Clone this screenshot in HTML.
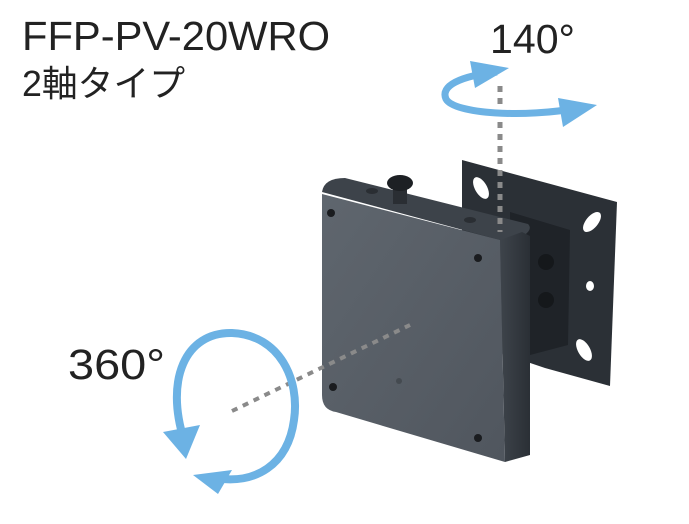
<!DOCTYPE html>
<html><head><meta charset="utf-8"><style>
html,body{margin:0;padding:0;background:#fff;width:689px;height:524px;overflow:hidden}
</style></head><body>
<svg width="689" height="524" viewBox="0 0 689 524" xmlns="http://www.w3.org/2000/svg">
<defs>
<linearGradient id="face" x1="0" y1="0" x2="1" y2="1">
<stop offset="0" stop-color="#5f666e"/><stop offset="1" stop-color="#50565e"/></linearGradient>
<linearGradient id="side" x1="0" y1="0" x2="1" y2="0">
<stop offset="0" stop-color="#3e444b"/><stop offset="1" stop-color="#2a2f35"/></linearGradient>
</defs>
<text x="22" y="50" font-family="Liberation Sans, sans-serif" font-size="41" fill="#222" textLength="308" lengthAdjust="spacingAndGlyphs">FFP-PV-20WRO</text>
<text x="22" y="96" font-family="Liberation Sans, 'Noto Sans CJK JP', sans-serif" font-size="36" fill="#222" textLength="163" lengthAdjust="spacingAndGlyphs">2軸タイプ</text>
<text x="490" y="53" font-family="Liberation Sans, sans-serif" font-size="41" fill="#222" textLength="85" lengthAdjust="spacingAndGlyphs">140°</text>
<text x="68" y="379" font-family="Liberation Sans, sans-serif" font-size="43" fill="#222" textLength="97" lengthAdjust="spacingAndGlyphs">360°</text>

<!-- back plate -->
<path d="M462,160 L617,202 L610,386 L545,368 L462,340 Z" fill="#2b3036"/>
<ellipse cx="481" cy="188" rx="6" ry="12" transform="rotate(-30 481 188)" fill="#fff"/>
<ellipse cx="592" cy="222" rx="6" ry="12" transform="rotate(40 592 222)" fill="#fff"/>
<ellipse cx="590" cy="286" rx="4" ry="5" fill="#fff"/>
<ellipse cx="584" cy="350" rx="6" ry="12" transform="rotate(-30 584 350)" fill="#fff"/>
<!-- middle block -->
<path d="M510,212 L570,230 L568,345 L530,355 L510,345 Z" fill="#1f2328"/>
<circle cx="546" cy="262" r="8" fill="#15181b"/><circle cx="546" cy="300" r="8" fill="#15181b"/>
<!-- top strip of front box -->
<path d="M322,192 Q324,178 345,178 L528,224 Q534,230 520,238 L500,240 Z" fill="#3d434a"/>
<!-- right side -->
<path d="M500,240 L522,232 L530,236 L530,455 L505,462 Z" fill="url(#side)"/>
<!-- front face -->
<path d="M322,194 L500,240 L505,462 L336,412 Q322,410 322,395 Z" fill="url(#face)"/>
<circle cx="331" cy="213" r="4" fill="#1a1c1f"/><circle cx="478" cy="258" r="4" fill="#1a1c1f"/>
<circle cx="333" cy="387" r="4" fill="#1a1c1f"/><circle cx="478" cy="438" r="4" fill="#1a1c1f"/>
<circle cx="399" cy="381" r="3" fill="#444a50"/>
<!-- knob -->
<rect x="393" y="188" width="14" height="16" fill="#2a2e33"/>
<ellipse cx="400" cy="183" rx="13" ry="8" fill="#1d2024"/>
<ellipse cx="372" cy="191" rx="6" ry="3" fill="#2a2e33"/>
<ellipse cx="470" cy="220" rx="6" ry="3" fill="#2a2e33"/>

<!-- dotted axes -->
<line x1="500" y1="86" x2="500" y2="232" stroke="#8a8a8a" stroke-width="5" stroke-dasharray="6,6"/>
<line x1="232" y1="411" x2="410" y2="325" stroke="#8a8a8a" stroke-width="4" stroke-dasharray="6,6"/>

<!-- top arrow -->
<path d="M497,72 C460,76 440,86 446,99 C454,114 525,118 578,108" fill="none" stroke="#6cb2e4" stroke-width="7"/>
<polygon points="470,61 509,68 475,88" fill="#6cb2e4"/>
<polygon points="558,98 597,105 563,127" fill="#6cb2e4"/>
<!-- left circle arrow -->
<path d="M184,440 C165,380 185,332 232,333 C280,335 300,380 294,420 C288,465 255,485 215,478" fill="none" stroke="#6cb2e4" stroke-width="8"/>
<polygon points="163,432 200,425 186,459" fill="#6cb2e4"/>
<polygon points="193,475 232,470 218,494" fill="#6cb2e4"/>
</svg>
</body></html>
